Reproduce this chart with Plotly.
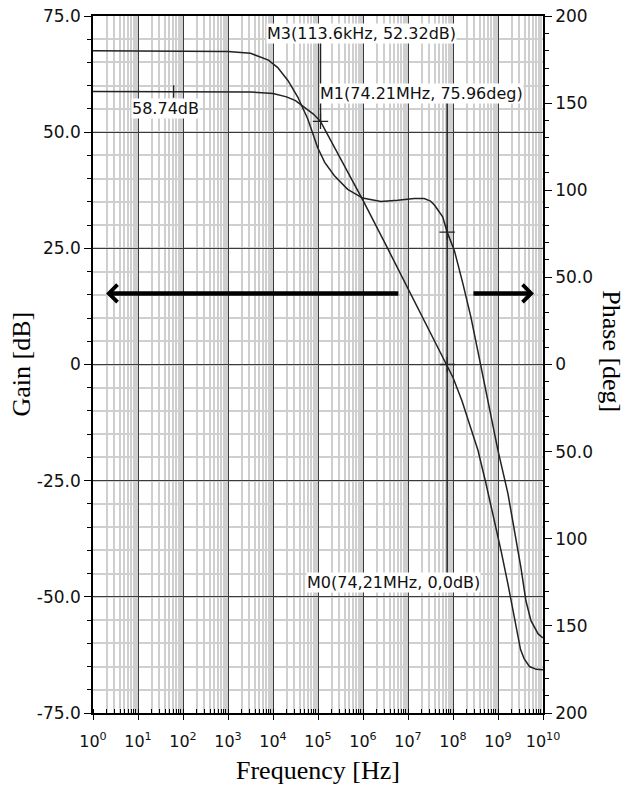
import plotly.graph_objects as go

# ---------------- data ----------------
gain_freq = [1, 10, 100, 1e3, 3.16e3, 1e4, 2e4, 3.16e4, 5e4, 7.9e4, 1.136e5,
             2e5, 4e5, 1e6, 3.16e6, 1e7, 3.16e7, 7.421e7, 1e8, 1.58e8, 2.5e8,
             3.6e8, 5.4e8, 8.1e8, 1.17e9, 1.66e9, 2.3e9, 2.75e9, 3.16e9,
             3.8e9, 5e9, 7.1e9, 1e10]
gain_db = [58.74, 58.74, 58.74, 58.72, 58.65, 58.3, 57.6, 56.8, 55.4, 53.9, 52.32,
           47.9, 42.3, 35.3, 25.9, 16.4, 7.0, 0.0, -2.8, -7.8, -13.5,
           -18.5, -25.6, -33.0, -40.1, -47.2, -54.5, -59.0, -61.3,
           -63.3, -65.0, -65.6, -65.7]

phase_freq = [1, 100, 1e3, 3.16e3, 7.9e3, 1.26e4, 2.14e4, 3.55e4, 5.9e4, 9.8e4,
              1.41e5, 2.29e5, 4.57e5, 9.8e5, 2.5e6, 5.9e6, 1.38e7, 2.29e7,
              3.16e7, 3.9e7, 5.9e7, 7.421e7, 1.07e8, 1.66e8, 2.5e8, 3.55e8,
              5e8, 7.1e8, 1e9, 1.66e9, 2.29e9, 3.24e9, 4.17e9, 5.4e9, 7.8e9, 1e10]
phase_deg = [180, 180, 179.6, 178.6, 174.7, 170.5, 163, 153.5, 141, 124.5,
             116, 108.5, 100.5, 95.5, 93.5, 94.2, 95.2, 95.2,
             93.8, 91.4, 84.7, 75.96, 65.5, 46.4, 27.2, 8,
             -11.1, -30.5, -49.4, -74, -93.7, -116.7, -135.6, -147, -154.6, -156.9]

# markers
m3_freq, m3_gain = 1.136e5, 52.32
m1_freq, m1_phase = 7.421e7, 75.96
m0_freq, m0_gain = 7.421e7, 0.0
dc_freq, dc_gain = 62, 58.74

x_tickvals = [10 ** k for k in range(11)]
x_ticktext = ["10<sup>%d</sup>" % k for k in range(11)]
y_tickvals = [-75, -50, -25, 0, 25, 50, 75]
y_ticktext = ["-75.0", "-50.0", "-25.0", "0", "25.0", "50.0", "75.0"]
y2_tickvals = [-200, -150, -100, -50, 0, 50, 100, 150, 200]
y2_ticktext = ["200", "150", "100", "50.0", "0", "50.0", "100", "150", "200"]

# ---------------- figure ----------------
LINE = "#222222"
TICKFONT = dict(family="DejaVu Sans", size=17, color="#111")
XTICKFONT = dict(family="DejaVu Sans", size=16, color="#111")
SERIF = "Liberation Serif"

fig = go.Figure()

fig.add_trace(go.Scatter(x=gain_freq, y=gain_db, mode="lines",
                         line=dict(color=LINE, width=1.5), showlegend=False,
                         hoverinfo="skip"))
fig.add_trace(go.Scatter(x=phase_freq, y=phase_deg, mode="lines", yaxis="y2",
                         line=dict(color=LINE, width=1.5), showlegend=False,
                         hoverinfo="skip"))

# marker vertical leader lines
fig.add_trace(go.Scatter(x=[m3_freq, m3_freq], y=[m3_gain, 71.3], mode="lines",
                         line=dict(color=LINE, width=1.5), showlegend=False,
                         hoverinfo="skip"))
fig.add_trace(go.Scatter(x=[m1_freq, m1_freq], y=[58.4, -47], mode="lines",
                         line=dict(color=LINE, width=1.5), showlegend=False,
                         hoverinfo="skip"))

# marker symbols
fig.add_trace(go.Scatter(x=[m3_freq, m0_freq], y=[m3_gain, m0_gain], mode="markers",
                         marker=dict(symbol="cross-thin", size=11,
                                     line=dict(color=LINE, width=1.3)),
                         showlegend=False, hoverinfo="skip"))
fig.add_trace(go.Scatter(x=[m1_freq], y=[m1_phase], mode="markers", yaxis="y2",
                         marker=dict(symbol="cross-thin", size=11,
                                     line=dict(color=LINE, width=1.3)),
                         showlegend=False, hoverinfo="skip"))
fig.add_trace(go.Scatter(x=[dc_freq], y=[dc_gain], mode="markers",
                         marker=dict(symbol="line-ns", size=9,
                                     line=dict(color=LINE, width=1.3)),
                         showlegend=False, hoverinfo="skip"))

LBL = dict(family="DejaVu Sans", size=16, color="#111")
annotations = [
    dict(x=3.84, y=71.3, xref="x", yref="y", xanchor="left", yanchor="middle",
         text="M3(113.6kHz, 52.32dB)", showarrow=False, font=LBL,
         bgcolor="white", borderpad=0),
    dict(x=5.02, y=58.4, xref="x", yref="y", xanchor="left", yanchor="middle",
         text="M1(74.21MHz, 75.96deg)", showarrow=False, font=LBL,
         bgcolor="white", borderpad=0),
    dict(x=4.73, y=-47, xref="x", yref="y", xanchor="left", yanchor="middle",
         text="M0(74,21MHz, 0,0dB)", showarrow=False, font=LBL,
         bgcolor="white", borderpad=0),
    dict(x=0.84, y=55.2, xref="x", yref="y", xanchor="left", yanchor="middle",
         text="58.74dB", showarrow=False, font=LBL, bgcolor="white", borderpad=0),
    # arrows
    dict(x=0.29, y=15.3, ax=6.82, ay=15.3, xref="x", yref="y", axref="x", ayref="y",
         text="", showarrow=True, arrowhead=4, arrowsize=0.75, arrowwidth=4.5,
         arrowcolor="black"),
    dict(x=9.8, y=15.3, ax=8.42, ay=15.3, xref="x", yref="y", axref="x", ayref="y",
         text="", showarrow=True, arrowhead=4, arrowsize=0.75, arrowwidth=4.5,
         arrowcolor="black"),
    # axis titles
    dict(x=0, y=0.5, xref="paper", yref="paper", xshift=-72, xanchor="center",
         yanchor="middle", text="Gain [dB]", textangle=-90, showarrow=False,
         font=dict(family=SERIF, size=26, color="black")),
    dict(x=1, y=0.519, xref="paper", yref="paper", xshift=69, xanchor="center",
         yanchor="middle", text="Phase [deg]", textangle=90, showarrow=False,
         font=dict(family=SERIF, size=26, color="black")),
    dict(x=0.5, y=0, xref="paper", yref="paper", yshift=-57, xanchor="center",
         yanchor="middle", text="Frequency [Hz]", showarrow=False,
         font=dict(family=SERIF, size=26, color="black")),
]

fig.update_layout(
    width=629, height=787,
    margin=dict(l=85, r=94, t=8, b=82, autoexpand=False),
    paper_bgcolor="white", plot_bgcolor="white",
    annotations=annotations,
    xaxis=dict(type="log", range=[0, 10], tickmode="array", tickvals=x_tickvals,
               ticktext=x_ticktext, tickfont=XTICKFONT, showgrid=True,
               gridcolor="#3a3a3a", gridwidth=1.2, ticks="outside", ticklen=5,
               tickcolor="black", showline=True, linecolor="black", linewidth=1.5,
               mirror=True, zeroline=False, automargin=False,
               ticklabelstandoff=8, ticklabeloverflow="allow",
               minor=dict(tickmode="linear", tick0=0, dtick="D1", showgrid=True,
                          gridcolor="#cfcfcf", gridwidth=2, ticks="inside",
                          ticklen=4, tickcolor="black")),
    yaxis=dict(range=[-75, 75], tickmode="array", tickvals=y_tickvals,
               ticktext=y_ticktext, tickfont=TICKFONT, showgrid=True,
               gridcolor="#3a3a3a", gridwidth=1.2, ticks="outside", ticklen=7,
               tickcolor="black", showline=True, linecolor="black", linewidth=1.5,
               zeroline=False, automargin=False, ticklabeloverflow="allow",
               minor=dict(tickmode="linear", tick0=0, dtick=5, showgrid=True,
                          gridcolor="#cfcfcf", gridwidth=2, ticks="outside",
                          ticklen=4, tickcolor="black")),
    yaxis2=dict(range=[-200, 200], overlaying="y", side="right", tickmode="array",
                tickvals=y2_tickvals, ticktext=y2_ticktext, tickfont=TICKFONT,
                showgrid=False, ticks="outside", ticklen=7, tickcolor="black",
                showline=True, linecolor="black", linewidth=1.5, zeroline=False,
                automargin=False, ticklabeloverflow="allow",
                minor=dict(tickmode="linear", tick0=0, dtick=10, ticks="outside",
                           ticklen=4, tickcolor="black", showgrid=False)),
)

fig.write_html("out.html")
